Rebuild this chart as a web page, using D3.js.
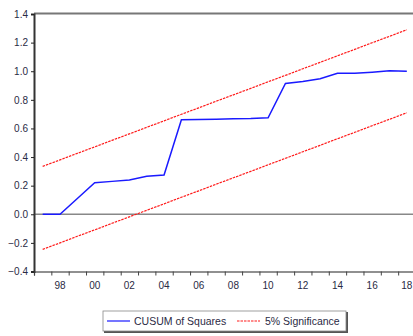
<!DOCTYPE html>
<html>
<head>
<meta charset="utf-8">
<script src="https://cdn.jsdelivr.net/npm/d3@7"></script>
<style>
  body { margin: 0; background: #fff; }
  svg { display: block; font-family: "Liberation Sans", Arial, sans-serif; }
</style>
</head>
<body>
<div id="chart"></div>
<script>
// observation years (annual data)
const years = [1997, 1998, 1999, 2000, 2001, 2002, 2003, 2004, 2005, 2006, 2007,
               2008, 2009, 2010, 2011, 2012, 2013, 2014, 2015, 2016, 2017, 2018];

// CUSUM of Squares
const cusumSq = [0.00, 0.00, 0.11, 0.22, 0.23, 0.24, 0.265, 0.275, 0.66, 0.662, 0.665,
                 0.668, 0.67, 0.675, 0.915, 0.928, 0.947, 0.985, 0.985, 0.993, 1.003, 1.00];

// 5% significance bands
const upperBand = [0.335, 0.38, 0.426, 0.471, 0.517, 0.562, 0.608, 0.653, 0.699, 0.744, 0.79,
                   0.835, 0.88, 0.926, 0.971, 1.017, 1.062, 1.108, 1.153, 1.199, 1.244, 1.29];
const lowerBand = [-0.245, -0.2, -0.154, -0.109, -0.063, -0.018, 0.028, 0.073, 0.119, 0.164, 0.21,
                   0.255, 0.30, 0.346, 0.391, 0.437, 0.482, 0.528, 0.573, 0.619, 0.664, 0.71];

const yTicks = [-0.4, -0.2, 0.0, 0.2, 0.4, 0.6, 0.8, 1.0, 1.2, 1.4];
const xLabelYears = [1998, 2000, 2002, 2004, 2006, 2008, 2010, 2012, 2014, 2016, 2018];

const width = 413, height = 336;
const margin = { left: 34, top: 14, bottom: 271.5, right: 415.5 };

const svg = d3.select("#chart").append("svg")
  .attr("width", width)
  .attr("height", height);

// x: one slot per year, observation in the middle of its slot
const x = d3.scaleLinear()
  .domain([years[0] - 0.5, years[years.length - 1] + 0.5])
  .range([margin.left, margin.right]);

const y = d3.scaleLinear()
  .domain([-0.4, 1.4])
  .range([margin.bottom, margin.top]);

// top frame line
svg.append("line")
  .attr("x1", margin.left).attr("x2", width)
  .attr("y1", margin.top - 0.5).attr("y2", margin.top - 0.5)
  .attr("stroke", "#777").attr("stroke-width", 2);

// zero line
svg.append("line")
  .attr("x1", margin.left).attr("x2", width)
  .attr("y1", y(0)).attr("y2", y(0))
  .attr("stroke", "#888").attr("stroke-width", 1.6);

// bottom axis: ticks at slot boundaries, labels at observations
svg.append("g")
  .attr("transform", `translate(0,${margin.bottom})`)
  .call(d3.axisBottom(x)
    .tickValues(d3.range(years[0] - 0.5, years[years.length - 1] + 0.5, 1))
    .tickSize(4)
    .tickFormat(""))
  .call(g => g.select(".domain").attr("stroke", "#222").attr("stroke-width", 1.2))
  .call(g => g.selectAll(".tick line").attr("stroke", "#444"));

svg.append("g")
  .selectAll("text")
  .data(xLabelYears)
  .enter().append("text")
  .attr("x", d => x(d))
  .attr("y", margin.bottom + 17)
  .attr("text-anchor", "middle")
  .attr("font-size", 10)
  .attr("fill", "#2a2a44")
  .text(d => String(d).slice(2));

// left axis
svg.append("g")
  .attr("transform", `translate(${margin.left},0)`)
  .call(d3.axisLeft(y)
    .tickValues(yTicks)
    .tickSize(3)
    .tickPadding(3)
    .tickFormat(d3.format(".1f")))
  .call(g => g.select(".domain").attr("stroke", "#333").attr("stroke-width", 2))
  .call(g => g.selectAll(".tick line").attr("stroke", "#222"))
  .call(g => g.selectAll(".tick text")
    .attr("font-size", 10)
    .attr("fill", "#2a2a44")
    .attr("font-family", "'Liberation Sans', Arial, sans-serif"));

const line = d3.line()
  .x(d => x(d[0]))
  .y(d => y(d[1]));

// significance bands
[upperBand, lowerBand].forEach(band => {
  svg.append("path")
    .datum(years.map((yr, i) => [yr, band[i]]))
    .attr("fill", "none")
    .attr("stroke", "#ff1a1a")
    .attr("stroke-width", 1.2)
    .attr("stroke-dasharray", "2.5,1")
    .attr("d", line);
});

// CUSUM of squares
svg.append("path")
  .datum(years.map((yr, i) => [yr, cusumSq[i]]))
  .attr("fill", "none")
  .attr("stroke", "#1a1aff")
  .attr("stroke-width", 1.5)
  .attr("d", line);

// legend
const lg = svg.append("g").attr("transform", "translate(103,311)");
lg.append("rect")
  .attr("x", 1).attr("y", 1)
  .attr("width", 244).attr("height", 21)
  .attr("fill", "#555");
lg.append("rect")
  .attr("width", 243).attr("height", 20)
  .attr("fill", "#fff")
  .attr("stroke", "#888").attr("stroke-width", 0.8);

lg.append("line")
  .attr("x1", 4).attr("x2", 27).attr("y1", 10).attr("y2", 10)
  .attr("stroke", "#1a1aff").attr("stroke-width", 1.2);
lg.append("text")
  .attr("x", 31).attr("y", 13.5)
  .attr("font-size", 10.5)
  .attr("fill", "#2a2a44")
  .text("CUSUM of Squares");

lg.append("line")
  .attr("x1", 134).attr("x2", 157).attr("y1", 10).attr("y2", 10)
  .attr("stroke", "#ff1a1a").attr("stroke-width", 1.2)
  .attr("stroke-dasharray", "2.5,1");
lg.append("text")
  .attr("x", 162).attr("y", 13.5)
  .attr("font-size", 10.5)
  .attr("fill", "#2a2a44")
  .text("5% Significance");
</script>
</body>
</html>
